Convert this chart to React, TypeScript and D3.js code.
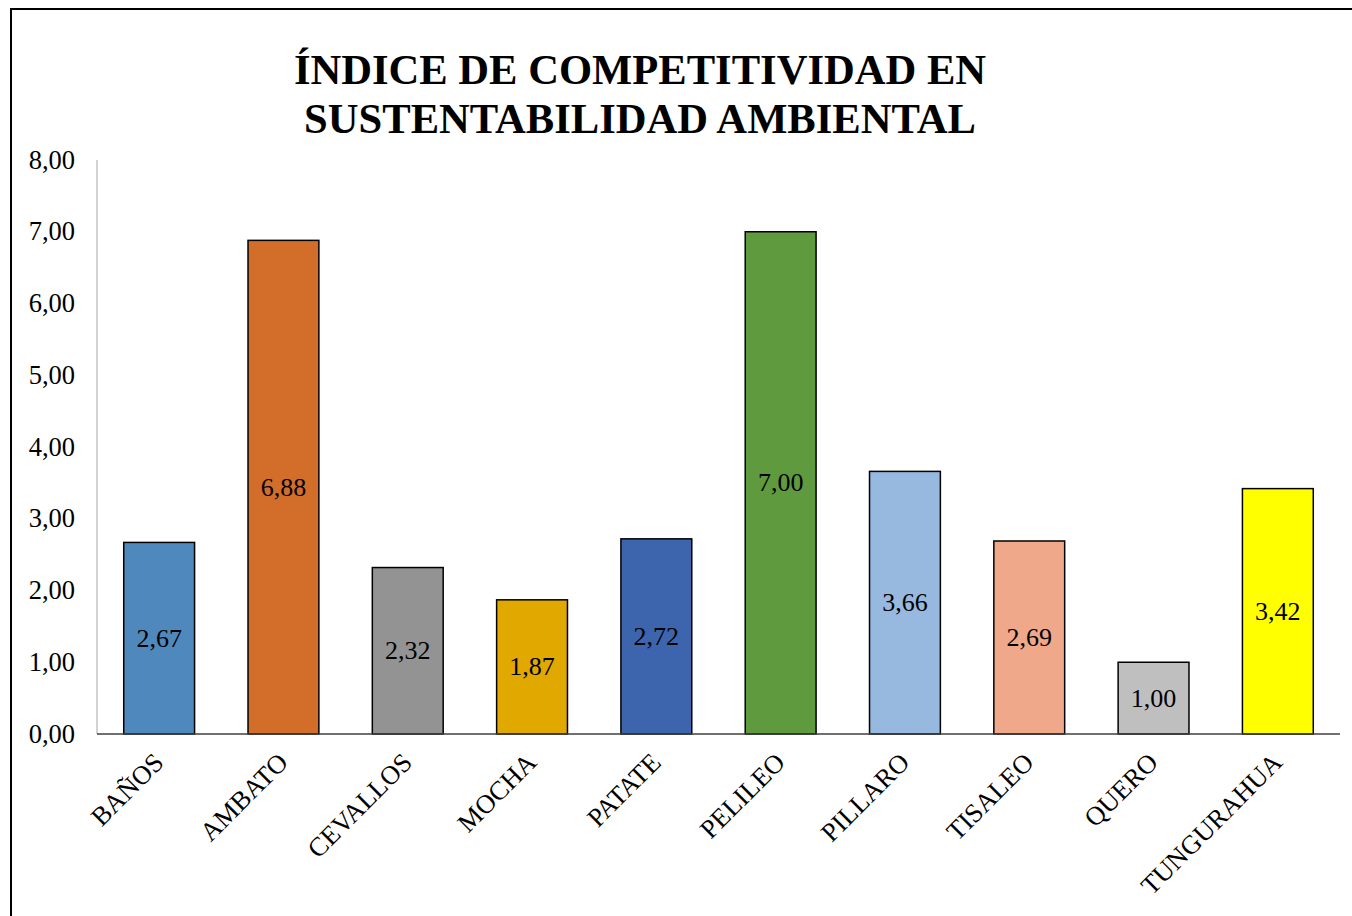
import React from "react";
import * as d3 from "d3";

const categories = ["BAÑOS", "AMBATO", "CEVALLOS", "MOCHA", "PATATE", "PELILEO", "PILLARO", "TISALEO", "QUERO", "TUNGURAHUA"];
const values = [2.67, 6.88, 2.32, 1.87, 2.72, 7.0, 3.66, 2.69, 1.0, 3.42];
const colors = ["#4F88BD", "#D36D2A", "#939393", "#E1A800", "#3C65AE", "#609A3E", "#97B8DF", "#F0A88A", "#BFBFBF", "#FFFF00"];
const yTicks = [0, 1, 2, 3, 4, 5, 6, 7, 8];
const titleLines = ["ÍNDICE DE COMPETITIVIDAD EN", "SUSTENTABILIDAD AMBIENTAL"];

const W = 1352;
const H = 916;
const left = 97;
const right = 1340;
const top = 160;
const bottom = 734;
const font = "'Liberation Serif', 'Times New Roman', serif";

const fmt = (v: number) => v.toFixed(2).replace(".", ",");

export default function App() {
  const x = d3.scaleBand<string>().domain(categories).range([left, right]).paddingInner(0.43).paddingOuter(0.215);
  const y = d3.scaleLinear().domain([0, 8]).range([bottom, top]);

  return (
    <svg width={W} height={H} style={{ position: "absolute", left: 0, top: 0 }} fontFamily={font}>
      <rect x={0} y={0} width={W} height={H} fill="#fff" />
      <rect x={11} y={9} width={W + 10} height={H + 10} fill="none" stroke="#000" strokeWidth={2} />
      {titleLines.map((t, i) => (
        <text key={i} x={640} y={84 + i * 49} textAnchor="middle" fontSize={42.6} fontWeight="bold" fill="#000">
          {t}
        </text>
      ))}
      <line x1={left} x2={left} y1={top} y2={bottom} stroke="#A6A6A6" strokeWidth={1} />
      {yTicks.map((t) => (
        <text key={t} x={75} y={y(t)} dy="0.33em" textAnchor="end" fontSize={26.5} fill="#000">
          {fmt(t)}
        </text>
      ))}
      {categories.map((c, i) => (
        <rect
          key={c}
          x={x(c)!}
          y={y(values[i])}
          width={x.bandwidth()}
          height={y(0) - y(values[i])}
          fill={colors[i]}
          stroke="#000"
          strokeWidth={1.5}
        />
      ))}
      <line x1={left} x2={right} y1={bottom} y2={bottom} stroke="#404040" strokeWidth={1.5} />
      {categories.map((c, i) => (
        <text
          key={c + "v"}
          x={x(c)! + x.bandwidth() / 2}
          y={(y(values[i]) + y(0)) / 2}
          dy="0.33em"
          textAnchor="middle"
          fontSize={26}
          fill="#000"
        >
          {fmt(values[i])}
        </text>
      ))}
      {categories.map((c) => {
        const cx = x(c)! + x.bandwidth() / 2 + 6;
        const cy = 764;
        return (
          <text
            key={c + "l"}
            x={cx}
            y={cy}
            textAnchor="end"
            fontSize={26.5}
            fill="#000"
            transform={`rotate(-45 ${cx} ${cy})`}
          >
            {c}
          </text>
        );
      })}
    </svg>
  );
}
